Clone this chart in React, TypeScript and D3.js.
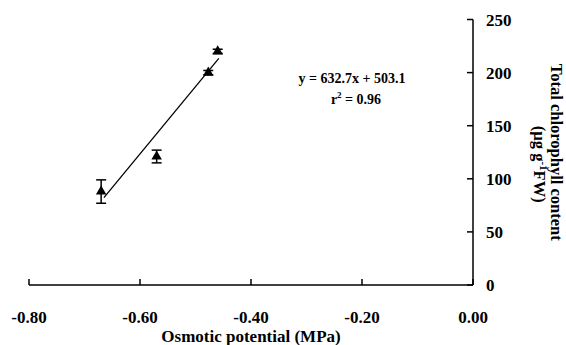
import React from 'react'
import * as d3 from 'd3'

// Osmotic potential (MPa) vs total chlorophyll (ug g-1 FW)
const potential = [-0.67, -0.57, -0.477, -0.46]
const chlorophyll = [88, 121, 200, 220]
const errors = [11, 6, 2, 2]

const xTicks = [-0.8, -0.6, -0.4, -0.2, 0]
const yTicks = [0, 50, 100, 150, 200, 250]

// fitted line y = 632.7x + 503.1
const slope = 632.7
const intercept = 503.1
const fitRange = [-0.665, -0.458]

const width = 566
const height = 345
const margin = {top: 19.5, right: 93, bottom: 60, left: 29}

const font = 'Liberation Serif, Times New Roman, DejaVu Serif, serif'

export default function App() {
  const x = d3
    .scaleLinear()
    .domain([-0.8, 0])
    .range([margin.left, width - margin.right])
  const y = d3
    .scaleLinear()
    .domain([0, 250])
    .range([height - margin.bottom, margin.top])

  const x0 = x(-0.8)
  const x1 = x(0)
  const yBase = y(0)

  const fit = d3
    .line<number>()
    .x(d => x(d))
    .y(d => y(slope * d + intercept))

  const triangle = d3.symbol().type(d3.symbolTriangle).size(48)()

  return (
    <svg
      width={width}
      height={height}
      style={{position: 'absolute', left: 0, top: 0, background: '#fff', fontFamily: font, fontWeight: 'bold'}}
    >
      {/* x axis */}
      <line x1={x0} x2={x1} y1={yBase} y2={yBase} stroke="#000" strokeWidth={1.5} />
      {xTicks.map(t => (
        <g key={t}>
          <line x1={x(t)} x2={x(t)} y1={yBase} y2={yBase - 6} stroke="#000" strokeWidth={1.5} />
          <text x={x(t)} y={yBase + 38} textAnchor="middle" fontSize={17}>
            {t.toFixed(2)}
          </text>
        </g>
      ))}
      <text x={(x0 + x1) / 2} y={height - 3} textAnchor="middle" fontSize={17}>
        Osmotic potential (MPa)
      </text>

      {/* y axis on the right */}
      <line x1={x1} x2={x1} y1={y(250)} y2={yBase} stroke="#000" strokeWidth={1.5} />
      {yTicks.map(t => (
        <g key={t}>
          <line x1={x1} x2={x1 - 6} y1={y(t)} y2={y(t)} stroke="#000" strokeWidth={1.5} />
          <text x={x1 + 13} y={y(t) + 6} fontSize={17}>
            {t}
          </text>
        </g>
      ))}
      <g transform={`translate(${x1 + 76},${(y(250) + yBase) / 2}) rotate(90)`}>
        <text x={0} y={-2} textAnchor="middle" fontSize={16.5}>
          Total chlorophyll content
        </text>
        <text x={12} y={15} textAnchor="middle" fontSize={16.5}>
          (µg g<tspan dy={-6} fontSize={11}>-1</tspan>
          <tspan dy={6}>FW)</tspan>
        </text>
      </g>

      {/* regression line */}
      <path d={fit(fitRange) ?? ''} fill="none" stroke="#000" strokeWidth={1.3} />

      {/* points with error bars */}
      {potential.map((p, i) => {
        const cx = x(p)
        const lo = y(chlorophyll[i] - errors[i])
        const hi = y(chlorophyll[i] + errors[i])
        return (
          <g key={i}>
            <line x1={cx} x2={cx} y1={lo} y2={hi} stroke="#000" strokeWidth={1.5} />
            <line x1={cx - 5} x2={cx + 5} y1={lo} y2={lo} stroke="#000" strokeWidth={1.5} />
            <line x1={cx - 5} x2={cx + 5} y1={hi} y2={hi} stroke="#000" strokeWidth={1.5} />
            <path d={triangle ?? ''} transform={`translate(${cx},${y(chlorophyll[i])})`} fill="#000" />
          </g>
        )
      })}

      {/* equation */}
      <text x={352} y={83} textAnchor="middle" fontSize={14}>
        y = 632.7x + 503.1
      </text>
      <text x={356} y={104} textAnchor="middle" fontSize={14}>
        r<tspan dy={-6} fontSize={9}>2</tspan>
        <tspan dy={6}> = 0.96</tspan>
      </text>
    </svg>
  )
}
